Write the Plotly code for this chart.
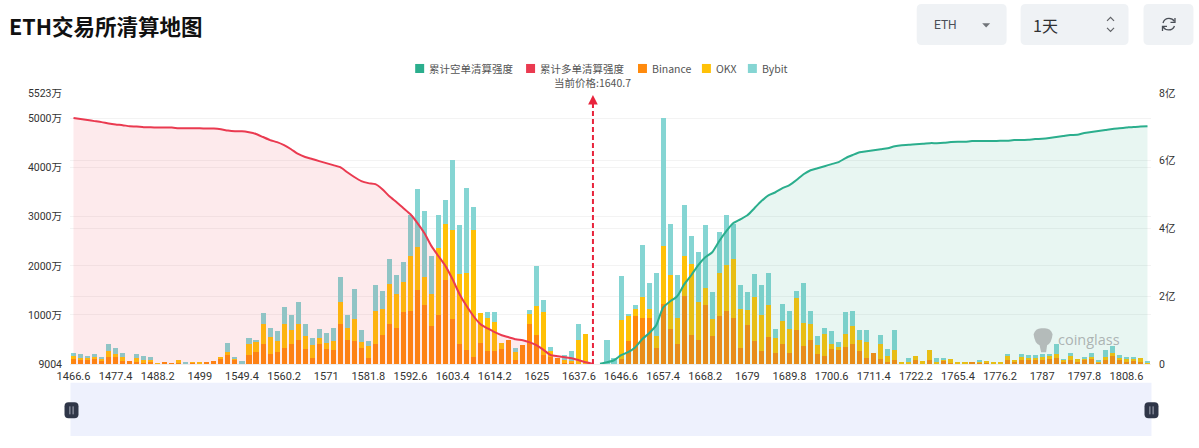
import plotly.graph_objects as go

# Liquidation intensity per price bucket, in units of 万
binance = [102,75,82,109,68,150,136,61,61,41,20,54,3,34,5,20,7,27,14,41,54,109,184,82,7,190,245,415,211,238,
           326,401,483,299,116,415,306,279,823,483,469,320,129,408,585,823,728,1054,1074,1503,1197,768,1000,1707,925,415,279,136,435,272,
           272,306,490,88,381,809,585,177,143,122,20,14,7,7,0,0,0,0,109,469,972,945,932,333,1217,707,415,1387,585,490,
           1197,564,979,1074,938,326,802,462,258,544,218,415,218,694,360,496,197,170,306,279,340,408,272,129,231,102,41,82,3,14,
           88,7,88,20,75,20,7,14,41,27,34,20,20,75,61,88,75,75,88,102,122,54,88,48,75,109,27,75,170,75,48,54,41,7]
okx = [54,41,34,27,27,109,61,88,0,88,54,20,2,0,0,54,7,7,14,0,0,14,54,14,0,224,197,394,347,238,
       483,286,333,265,272,109,129,190,442,252,456,129,231,673,544,809,700,619,1136,891,578,666,1367,1149,1802,1414,1578,2598,612,666,
       585,129,0,156,0,204,605,884,122,0,54,48,476,598,0,0,0,0,782,503,150,422,184,245,1197,1115,524,809,1462,775,
       354,354,877,952,1210,796,292,904,748,666,313,456,503,660,476,313,184,435,109,61,272,360,211,320,0,313,116,197,34,20,
       68,61,190,14,14,82,14,7,0,14,27,7,7,88,14,61,54,48,48,68,75,34,68,48,41,27,27,68,54,41,68,54,82,27]
bybit = [75,95,41,75,41,143,136,82,0,68,82,61,0,0,0,0,27,0,0,0,0,0,184,41,61,116,54,231,184,190,
         360,313,456,258,136,184,204,272,510,258,605,238,109,537,367,510,388,415,823,1163,1353,768,660,483,1428,1000,1720,462,0,116,
         197,0,0,82,0,88,816,238,75,0,102,197,326,0,0,0,483,122,898,48,88,1054,544,1278,2591,1034,870,1054,558,1013,
         1272,544,830,1006,714,490,367,462,598,639,177,347,360,129,809,272,184,122,252,109,449,313,218,252,0,184,156,422,0,95,
         0,0,0,95,27,0,0,0,0,27,0,0,0,48,0,61,54,54,61,34,204,14,61,0,14,82,34,150,150,61,7,41,0,34]

# Cumulative long and short liquidation intensity, in units of 亿
cum_long = [7.26,7.23,7.20,7.17,7.14,7.10,7.07,7.05,7.02,7.01,6.99,6.99,6.98,6.98,6.98,6.96,6.96,6.96,6.96,6.95,
            6.95,6.93,6.89,6.87,6.87,6.84,6.79,6.70,6.61,6.55,6.46,6.34,6.20,6.11,6.05,5.99,5.93,5.87,5.81,5.66,
            5.52,5.40,5.34,5.31,5.16,4.95,4.78,4.60,4.42,4.16,3.86,3.48,3.18,2.89,2.50,2.06,1.71,1.41,1.17,1.05,
            0.94,0.85,0.79,0.73,0.70,0.64,0.55,0.41,0.26,0.23,0.20,0.17,0.11,0.05,0.0]
cum_short = [0.01,0.05,0.11,0.26,0.35,0.49,0.73,0.91,1.14,1.67,1.85,2.00,2.35,2.62,2.92,3.15,3.30,3.63,3.92,4.16,
             4.27,4.39,4.60,4.81,4.98,5.07,5.19,5.28,5.43,5.60,5.72,5.78,5.84,5.90,5.96,6.08,6.17,6.25,6.28,6.31,
             6.34,6.37,6.43,6.46,6.47,6.49,6.50,6.52,6.52,6.53,6.55,6.56,6.56,6.58,6.58,6.58,6.58,6.59,6.59,6.61,
             6.61,6.62,6.64,6.65,6.67,6.70,6.73,6.76,6.77,6.82,6.85,6.88,6.91,6.94,6.96,6.98,7.00,7.01,7.02]

price_labels = ["1466.6","1477.4","1488.2","1499","1549.4","1560.2","1571","1581.8","1592.6","1603.4","1614.2",
                "1625","1637.6","1646.6","1657.4","1668.2","1679","1689.8","1700.6","1711.4","1722.2","1765.4",
                "1776.2","1787","1797.8","1808.6"]
left_ticks = [0, 1000, 2000, 3000, 4000, 5000, 5523]
left_labels = ["9004", "1000万", "2000万", "3000万", "4000万", "5000万", "5523万"]
right_ticks = [0, 2, 4, 6, 8]
right_labels = ["0", "2亿", "4亿", "6亿", "8亿"]

LEFT_MAX = 5523
RIGHT_MAX = 8
PRICE_INDEX = 74
TICK_STEP = 6

FONT = "Roboto, 'Noto Sans CJK SC', sans-serif"
CJK = "'Noto Sans CJK SC', Roboto, sans-serif"
GREEN, RED = "#2BAE8D", "#EA3A50"
ORANGE, YELLOW, TEAL = "#FF8A0D", "#FFC107", "#85D5D3"
LONG_NAME, SHORT_NAME = "累计多单清算强度", "累计空单清算强度"

# Page-pixel helpers for the surrounding controls
W, H = 1199, 448
PL, PR, PT, PB = 69.5, 1151.5, 93.0, 363.7


def px(x):
    return (x - PL) / (PR - PL)


def py(y):
    return (PB - y) / (PB - PT)


def path(points, close=True):
    cmds = ["M" if i == 0 else "L" for i in range(len(points))]
    body = " ".join(f"{c}{px(a):.5f},{py(b):.5f}" for c, (a, b) in zip(cmds, points))
    return body + (" Z" if close else "")


def rounded(x0, y0, x1, y1, r):
    return (f"M{px(x0 + r):.5f},{py(y0):.5f} L{px(x1 - r):.5f},{py(y0):.5f} "
            f"Q{px(x1):.5f},{py(y0):.5f} {px(x1):.5f},{py(y0 + r):.5f} "
            f"L{px(x1):.5f},{py(y1 - r):.5f} Q{px(x1):.5f},{py(y1):.5f} {px(x1 - r):.5f},{py(y1):.5f} "
            f"L{px(x0 + r):.5f},{py(y1):.5f} Q{px(x0):.5f},{py(y1):.5f} {px(x0):.5f},{py(y1 - r):.5f} "
            f"L{px(x0):.5f},{py(y0 + r):.5f} Q{px(x0):.5f},{py(y0):.5f} {px(x0 + r):.5f},{py(y0):.5f} Z")


def paper_shape(d, fill=None, stroke=None, width=0):
    return dict(type="path", xref="paper", yref="paper", path=d,
                fillcolor=fill or "rgba(0,0,0,0)",
                line=dict(color=stroke or "rgba(0,0,0,0)", width=width), layer="above")


xs = list(range(len(binance)))
long_x = xs[:len(cum_long)]
short_x = xs[len(cum_long):]

fig = go.Figure()

for name, values, color in [("Binance", binance, ORANGE), ("OKX", okx, YELLOW), ("Bybit", bybit, TEAL)]:
    fig.add_trace(go.Bar(x=xs, y=values, name=name, marker=dict(color=color, line_width=0), showlegend=False))

fig.add_trace(go.Scatter(x=long_x, y=cum_long, yaxis="y2", mode="lines", name=LONG_NAME, showlegend=False,
                         line=dict(color=RED, width=2, shape="spline", smoothing=0.6),
                         fill="tozeroy", fillcolor="rgba(236,70,90,0.115)"))
fig.add_trace(go.Scatter(x=short_x, y=cum_short, yaxis="y2", mode="lines", name=SHORT_NAME, showlegend=False,
                         line=dict(color=GREEN, width=2, shape="spline", smoothing=0.6),
                         fill="tozeroy", fillcolor="rgba(43,174,141,0.11)"))

shapes = [
    # current price marker
    dict(type="line", xref="x", yref="y", x0=PRICE_INDEX, x1=PRICE_INDEX, y0=0, y1=LEFT_MAX * 0.96,
         line=dict(color="#E8243C", width=2, dash="5px,3px"), layer="above"),
    # range slider band and handles
    paper_shape(path([(70, 382.5), (1152, 382.5), (1152, 435.5), (70, 435.5)]), fill="#EEF1FD"),
]
for cx in (71, 1152):
    shapes.append(paper_shape(rounded(cx - 7, 402, cx + 7, 418, 4), fill="#2F3648"))
    for dx in (-1.6, 1.6):
        shapes.append(paper_shape(path([(cx + dx, 406), (cx + dx, 414)], close=False), stroke="#A9AEBB", width=1))

# header controls
shapes += [
    paper_shape(rounded(917, 4, 1007, 45, 5), fill="#EFF2F5"),
    paper_shape(rounded(1021, 4, 1129, 45, 5), fill="#EFF2F5"),
    paper_shape(rounded(1144, 4, 1194, 45, 5), fill="#EFF2F5"),
    paper_shape(path([(982.5, 23.3), (990.5, 23.3), (986.5, 27.5)]), fill="#707479"),
    paper_shape(path([(1107.5, 21), (1111, 17.5), (1114.5, 21)], close=False), stroke="#606266", width=1.2),
    paper_shape(path([(1107.5, 28), (1111, 31.5), (1114.5, 28)], close=False), stroke="#606266", width=1.2),
    # refresh icon
    paper_shape(f"M{px(1163.5):.5f},{py(23):.5f} Q{px(1165):.5f},{py(18.5):.5f} {px(1169.5):.5f},{py(18.5):.5f} "
                f"Q{px(1173):.5f},{py(18.5):.5f} {px(1175):.5f},{py(21.5):.5f}", stroke="#4A4F57", width=1.3),
    paper_shape(f"M{px(1175):.5f},{py(26):.5f} Q{px(1173.5):.5f},{py(30):.5f} {px(1169):.5f},{py(30):.5f} "
                f"Q{px(1165.5):.5f},{py(30):.5f} {px(1163.5):.5f},{py(27):.5f}", stroke="#4A4F57", width=1.3),
    paper_shape(path([(1175.5, 18), (1175.5, 22.5), (1171, 22.5)], close=False), stroke="#4A4F57", width=1.3),
    paper_shape(path([(1163, 31), (1163, 26.5), (1167.5, 26.5)], close=False), stroke="#4A4F57", width=1.3),
    # coinglass mark
    paper_shape(f"M{px(1034):.5f},{py(334):.5f} Q{px(1036):.5f},{py(327):.5f} {px(1043.5):.5f},{py(328):.5f} "
                f"Q{px(1051):.5f},{py(327):.5f} {px(1053):.5f},{py(334):.5f} "
                f"Q{px(1052):.5f},{py(343):.5f} {px(1047.5):.5f},{py(345):.5f} L{px(1046.5):.5f},{py(352):.5f} "
                f"L{px(1041.5):.5f},{py(352):.5f} L{px(1040):.5f},{py(345):.5f} Q{px(1035):.5f},{py(343):.5f} "
                f"{px(1034):.5f},{py(334):.5f} Z", fill="rgba(170,176,176,0.85)"),
]

annotations = [
    dict(x=PRICE_INDEX, y=py(95), xref="x", yref="paper", ax=0, ay=14, text="", showarrow=True,
         arrowhead=2, arrowsize=1.2, arrowwidth=1.6, arrowcolor="#E8243C"),
    dict(x=PRICE_INDEX, y=py(83), xref="x", yref="paper", text="当前价格:1640.7", showarrow=False,
         xanchor="center", yanchor="middle", font=dict(family=CJK, size=10.5, color="#555555")),
    dict(x=px(932), y=py(25), xref="paper", yref="paper", text="ETH", showarrow=False, xanchor="left",
         yanchor="middle", font=dict(family=FONT, size=12, color="#4A4F57")),
    dict(x=px(1031), y=py(25), xref="paper", yref="paper", text="1天", showarrow=False, xanchor="left",
         yanchor="middle", font=dict(family=CJK, size=16, color="#303133")),
    dict(x=px(1056), y=py(339), xref="paper", yref="paper", text="coinglass", showarrow=False, xanchor="left",
         yanchor="middle", font=dict(family="'Open Sans', sans-serif", size=14.5, color="rgba(165,171,171,0.9)")),
]

# Key above the plot: swatch left edges paired with their labels
key_entries = [(415, SHORT_NAME, GREEN), (526, LONG_NAME, RED), (638, "Binance", ORANGE),
               (702, "OKX", YELLOW), (748, "Bybit", TEAL)]
for left, label, color in key_entries:
    shapes.append(paper_shape(path([(left, 64), (left + 9, 64), (left + 9, 73), (left, 73)]), fill=color))
    annotations.append(dict(x=px(left + 12), y=py(68.5), xref="paper", yref="paper", text=label, showarrow=False,
                            xanchor="left", yanchor="middle", font=dict(family=CJK, size=10.5, color="#555555")))

fig.update_layout(
    width=W, height=H, autosize=False,
    margin=dict(l=PL, r=W - PR, t=PT, b=H - PB, autoexpand=False),
    paper_bgcolor="white", plot_bgcolor="white",
    barmode="stack", bargap=0.28, showlegend=False,
    font=dict(family=FONT, size=11, color="#333333"),
    title=dict(text="<b>ETH交易所清算地图</b>", xref="container", yref="container", x=9 / W, y=1 - 27 / H,
               xanchor="left", yanchor="middle", font=dict(family=CJK, size=21.5, color="#111111")),
    xaxis=dict(range=[-0.5, len(xs) - 0.5], tickmode="array", tickvals=xs[::TICK_STEP], ticktext=price_labels,
               showgrid=False, zeroline=False, showline=True, linecolor="#EDEDED", ticks="",
               tickangle=0, ticklabelstandoff=2, tickfont=dict(size=11, color="#333333")),
    yaxis=dict(range=[0, LEFT_MAX], tickmode="array", tickvals=left_ticks, ticktext=left_labels,
               showgrid=True, gridcolor="#F3F3F3", gridwidth=1, zeroline=False, showline=False, ticks="",
               ticklabelstandoff=7, tickfont=dict(size=10.5)),
    yaxis2=dict(range=[0, RIGHT_MAX], tickmode="array", tickvals=right_ticks, ticktext=right_labels,
                overlaying="y", side="right", showgrid=True, gridcolor="#F3F3F3", gridwidth=1,
                zeroline=False, showline=False, ticks="", ticklabelstandoff=7, tickfont=dict(size=10.5)),
    shapes=shapes, annotations=annotations,
)

fig.write_html("out.html", config=dict(displayModeBar=False))
